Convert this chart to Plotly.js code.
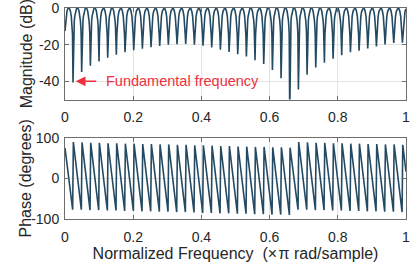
<!DOCTYPE html>
<html>
<head>
<meta charset="utf-8">
<script src="https://cdn.plot.ly/plotly-3.0.1.min.js"></script>
<style>html,body{margin:0;padding:0;background:#fff;}#chart{width:415px;height:269px;}</style>
</head>
<body>
<div id="chart"></div>
<script>
// Notch (null) frequencies, x pi rad/sample
const nullFreq = [0.0235,0.0489,0.0744,0.0998,0.1252,0.1506,0.1760,0.2015,0.2269,0.2523,
  0.2777,0.3031,0.3286,0.3540,0.3794,0.4048,0.4302,0.4557,0.4811,0.5065,
  0.5319,0.5573,0.5828,0.6082,0.6336,0.6590,0.6844,0.7099,0.7353,0.7607,
  0.7861,0.8115,0.8370,0.8624,0.8878,0.9132,0.9386,0.9641,0.9895];
// Depth of each null (dB)
const nullDepthDb = [-40.7,-34.9,-31.5,-29.2,-27.2,-25.5,-24.2,-23.1,-22.2,-21.4,
  -20.7,-20.1,-19.7,-19.6,-20.0,-20.6,-21.5,-22.8,-24.0,-25.2,
  -26.5,-28.5,-30.6,-33.8,-38.4,-58.0,-44.5,-36.5,-32.5,-29.9,
  -27.7,-25.8,-24.2,-23.3,-22.1,-21.0,-19.9,-19.1,-18.9];
// Shape of one lobe between two nulls: fraction of the spacing -> dB
const lobeFrac = [0.06,0.10,0.15,0.20,0.30,0.40,0.50,0.60,0.70,0.80,0.85,0.90,0.94];
const lobeDb   = [-14.5,-10.2,-6.9,-4.6,-1.8,-0.4,0,-0.4,-1.8,-4.6,-6.9,-10.2,-14.5];
const magStartDb = -12.5;   // value at 0
const magEndDb = -0.5;      // value at 1
// Phase: lowest value just before each null, highest just after it (degrees)
const phaseTrough = [-77,-77,-78,-78,-79,-79,-80,-80,-81,-81,-82,-82,-83,-83,-84,-85,-85,-86,-86,-87,
  -87,-88,-88,-89,-89,-90,-77,-77,-78,-78,-79,-79,-80,-80,-81,-81,-82,-82,-83];
const phasePeak = [90,89,88,88,87,87,86,86,85,85,84,84,83,83,82,82,81,80,80,79,
  79,78,78,77,77,76,90,89,88,88,87,87,86,86,85,85,84,84,83];
const phaseStart = 75, phaseEnd = 17;
const xTickVals = [0,0.2,0.4,0.6,0.8,1];
const xTickText = ['0','0.2','0.4','0.6','0.8','1'];

// build magnitude polyline
const magX = [0], magY = [magStartDb];
const edges = [-0.0019].concat(nullFreq).concat([1.0149]);
for (let i = 0; i < edges.length - 1; i++) {
  const a = edges[i], b = edges[i+1], s = 0.02542;
  for (let j = 0; j < lobeFrac.length; j++) {
    const fx = a + lobeFrac[j] * s;
    if (fx > 0.001 && fx < 0.999 && fx < b) { magX.push(fx); magY.push(lobeDb[j]); }
  }
  if (i < nullFreq.length) { magX.push(nullFreq[i]); magY.push(nullDepthDb[i]); }
}
magX.push(1); magY.push(magEndDb);
const ord = magX.map((v,i)=>i).sort((p,q)=>magX[p]-magX[q]);
const mX = ord.map(i=>magX[i]), mY = ord.map(i=>magY[i]);

const phX = [0], phY = [phaseStart];
for (let k = 0; k < nullFreq.length; k++) {
  phX.push(nullFreq[k] - 0.001); phY.push(phaseTrough[k]);
  phX.push(nullFreq[k] + 0.001); phY.push(phasePeak[k]);
}
phX.push(1); phY.push(phaseEnd);

const lineColor = '#234a62';
const fam = 'Liberation Sans, Arial, sans-serif';
const tickFont = {family: fam, size: 14, color: '#262626'};
const titleFont = {family: fam, size: 16, color: '#262626'};
const axBase = {
  showline: true, linecolor: '#6e6e6e', linewidth: 1, mirror: 'ticks',
  ticks: 'inside', ticklen: 4, tickcolor: '#6e6e6e',
  showgrid: true, gridcolor: '#e3e3e3', gridwidth: 1, zeroline: false,
  tickfont: tickFont, ticklabeloverflow: 'allow'
};

const traces = [
  {x: mX, y: mY, xaxis: 'x', yaxis: 'y', mode: 'lines', line: {color: lineColor, width: 1.6}, hoverinfo: 'skip'},
  {x: phX, y: phY, xaxis: 'x2', yaxis: 'y2', mode: 'lines', line: {color: lineColor, width: 1.6}, hoverinfo: 'skip'}
];

const L = 65, W = 341;
const layout = {
  width: 415, height: 269,
  margin: {l: L, r: 9, t: 8, b: 50},
  paper_bgcolor: '#ffffff', plot_bgcolor: '#ffffff',
  showlegend: false,
  font: tickFont,
  xaxis: Object.assign({}, axBase, {domain: [0,1], anchor: 'y', range: [0,1], tickvals: xTickVals, ticktext: xTickText, ticklabelstandoff: 5}),
  yaxis: Object.assign({}, axBase, {domain: [0.566,1], anchor: 'x', range: [-50,0], tickvals: [-40,-20,0], ticktext: ['-40','-20','0'],
    ticklabelstandoff: 2}),
  xaxis2: Object.assign({}, axBase, {domain: [0,1], anchor: 'y2', range: [0,1], tickvals: xTickVals, ticktext: xTickText, ticklabelstandoff: 5,
    title: {text: 'Normalized Frequency  (×\u200Aπ rad/sample)', font: titleFont, standoff: 4}}),
  yaxis2: Object.assign({}, axBase, {domain: [0,0.384], anchor: 'x2', range: [-100,100], tickvals: [-100,0,100], ticktext: ['-100','0','100'],
    ticklabelstandoff: 2}),
  annotations: [
    {xref: 'paper', yref: 'paper', x: (26.5 - L) / W, y: 0.783, xanchor: 'center', yanchor: 'middle', showarrow: false,
     textangle: -90, text: 'Magnitude (dB)', font: titleFont},
    {xref: 'paper', yref: 'paper', x: (25 - L) / W, y: 0.192, xanchor: 'center', yanchor: 'middle', showarrow: false,
     textangle: -90, text: 'Phase (degrees)', font: titleFont},
    {xref: 'x', yref: 'y', x: 0.0315, y: -40, ax: 22, ay: 0, text: '', showarrow: true,
     arrowhead: 2, arrowsize: 1.5, arrowwidth: 1.3, arrowcolor: '#f0303c'},
    {xref: 'x', yref: 'y', x: 0.114, y: -40, xanchor: 'left', yanchor: 'middle', showarrow: false,
     text: 'Fundamental frequency', font: {family: fam, size: 14.5, color: '#f0303c'}}
  ]
};

Plotly.newPlot('chart', traces, layout, {staticPlot: true, displayModeBar: false});
</script>
</body>
</html>
